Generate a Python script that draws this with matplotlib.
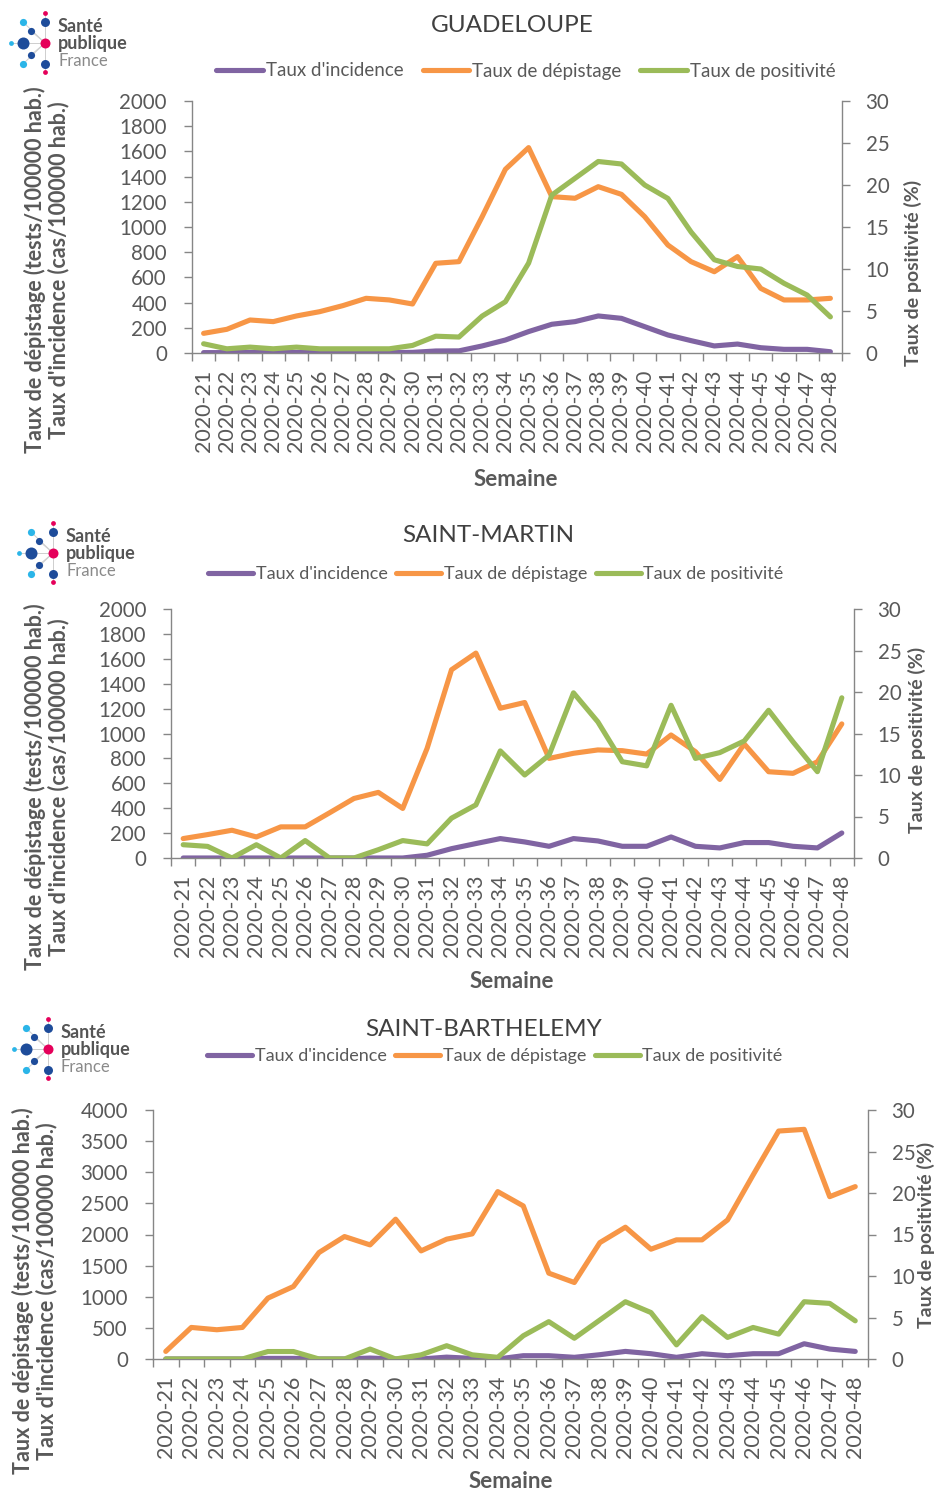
import numpy as np
import matplotlib
matplotlib.use("Agg")
import matplotlib.pyplot as plt
from matplotlib.ticker import MultipleLocator, FixedLocator

plt.rcParams['font.family'] = ['Lato', 'DejaVu Sans']

# Data
weeks = ["2020-%d" % w for w in range(21, 49)]
regions = ["GUADELOUPE", "SAINT-MARTIN", "SAINT-BARTHELEMY"]

# Guadeloupe
gp_incidence = [3, 3, 5, 3, 5, 2, 2, 2, 3, 5, 16, 17, 56, 103, 170, 228,
                249, 294, 275, 209, 143, 98, 56, 71, 42, 29, 29, 10]
gp_depistage = [156, 188, 262, 249, 294, 328, 376, 434, 421, 389, 712, 725,
                1082, 1458, 1630, 1241, 1228, 1320, 1259, 1082, 857, 725,
                645, 765, 513, 421, 421, 434]
gp_positivite = [1.1, 0.5, 0.7, 0.5, 0.7, 0.5, 0.5, 0.5, 0.5, 0.9, 2.0, 1.9,
                 4.4, 6.1, 10.7, 18.8, 20.8, 22.8, 22.5, 20.0, 18.4, 14.4,
                 11.1, 10.3, 10.0, 8.3, 6.9, 4.3]

# Saint-Martin
sm_incidence = [0, 0, 0, 0, 0, 0, 0, 0, 0, 0, 22, 75, 116, 156, 129, 94,
                156, 137, 94, 94, 169, 94, 81, 124, 124, 94, 81, 201]
sm_depistage = [156, 188, 223, 169, 250, 250, 363, 478, 527, 398, 881, 1512,
                1646, 1203, 1249, 800, 841, 868, 862, 835, 988, 854, 631,
                916, 693, 680, 773, 1077]
sm_positivite = [1.6, 1.4, 0.0, 1.6, 0.0, 2.1, 0.0, 0.0, 1.0, 2.1, 1.7, 4.8,
                 6.4, 12.9, 10.0, 12.4, 19.9, 16.4, 11.6, 11.1, 18.4, 12.0,
                 12.7, 14.1, 17.8, 14.0, 10.4, 19.3]

# Saint-Barthelemy
sb_incidence = [0, 0, 0, 0, 10, 10, 0, 0, 15, 0, 0, 30, 10, 0, 53, 53,
                27, 69, 122, 85, 27, 85, 53, 85, 85, 245, 160, 122]
sb_depistage = [122, 507, 470, 507, 978, 1165, 1710, 1967, 1833, 2246, 1737,
                1925, 2010, 2689, 2459, 1379, 1229, 1870, 2117, 1764, 1914,
                1914, 2234, 2956, 3662, 3689, 2608, 2769]
sb_positivite = [0, 0, 0, 0, 0.9, 0.9, 0, 0, 1.2, 0, 0.5, 1.6, 0.5, 0.2,
                 2.8, 4.5, 2.5, 4.7, 6.9, 5.6, 1.7, 5.1, 2.6, 3.8, 3.0, 6.9,
                 6.7, 4.6]

series = [
    (gp_incidence, gp_depistage, gp_positivite),
    (sm_incidence, sm_depistage, sm_positivite),
    (sb_incidence, sb_depistage, sb_positivite),
]
left_max = [2000, 2000, 4000]
left_step = [200, 200, 500]

# Layout (pixels of a 935x1490 figure)
W, H = 935, 1490
axes_px = [(192, 842, 101, 353), (171, 854, 609, 858), (153, 868, 1110, 1359)]
title_pos = [(512, 25), (488, 535), (484, 1030)]
legend_pos = [(526, 71), (496, 574), (495, 1056)]
legend_font = [13.5, 13, 13]
legend_gap = [1.0, 0.45, 0.45]
ylabel_pos = [(47, 270), (47, 787), (35, 1291)]
y2label_pos = [(913, 273), (917, 740), (926, 1235)]
xlabel_pos = [(516, 480), (512, 981), (511, 1482)]
logo_pos = [(45, 43), (53, 553), (48, 1049)]

PURPLE, ORANGE, GREEN = "#8064A2", "#F79646", "#9BBB59"
GREY_AX = "#868686"
TXT = "#595959"

fig = plt.figure(figsize=(W / 100, H / 100), dpi=100)


def draw_logo(ax, cx, cy):
    dots = [  # dx, dy, radius, colour
        (0, 0, 5, "#E5005A"), (-22, 0, 6, "#1E4C9A"), (-34, 0, 2.4, "#2BB5E8"),
        (-22, -21, 3.6, "#2BB5E8"), (-14, -12, 3.6, "#1E4C9A"), (0, -21, 4.5, "#1E4C9A"),
        (0, -30, 2.4, "#E5005A"), (-14, 12, 3.6, "#1E4C9A"), (-22, 21, 3.6, "#2BB5E8"),
        (0, 21, 4.5, "#1E4C9A"), (0, 29, 2.4, "#E5005A"),
    ]
    for dx, dy, r, c in dots:
        if (dx, dy) != (0, 0):
            ax.plot([cx, cx + dx], [cy, cy + dy], color="#cfcfcf", lw=0.7, zorder=1)
    for dx, dy, r, c in dots:
        ax.scatter(cx + dx, cy + dy, s=(1.44 * r) ** 2, color=c, zorder=2, linewidths=0)
    ax.text(cx + 13, cy - 17, "Santé", fontsize=13, fontweight="bold", color="#555555", va="center")
    ax.text(cx + 13, cy + 0.5, "publique", fontsize=13, fontweight="bold", color="#555555", va="center")
    ax.text(cx + 13, cy + 18, "France", fontsize=12, color="#8a8a8a", va="center")


x = np.arange(len(weeks))
for i in range(3):
    l, r, t, b = axes_px[i]
    ax = fig.add_axes([l / W, 1 - b / H, (r - l) / W, (b - t) / H])
    ax2 = ax.twinx()
    inc, dep, pos = series[i]
    h1, = ax.plot(x, inc, color=PURPLE, lw=3.7, label="Taux d'incidence",
                  solid_joinstyle="round", solid_capstyle="round")
    h2, = ax.plot(x, dep, color=ORANGE, lw=3.7, label="Taux de dépistage",
                  solid_joinstyle="round", solid_capstyle="round")
    h3, = ax2.plot(x, pos, color=GREEN, lw=3.7, label="Taux de positivité",
                   solid_joinstyle="round", solid_capstyle="round")

    ax.set_xlim(-0.5, len(weeks) - 0.5)
    ax.set_ylim(0, left_max[i])
    ax2.set_ylim(0, 30)
    ax.yaxis.set_major_locator(MultipleLocator(left_step[i]))
    ax2.yaxis.set_major_locator(MultipleLocator(5))
    ax.set_xticks(x)
    ax.set_xticklabels(weeks, rotation=90)
    ax.xaxis.set_minor_locator(FixedLocator(np.arange(-0.5, len(weeks), 1)))

    for a in (ax, ax2):
        a.patch.set_visible(False)
        a.spines["top"].set_visible(False)
        for s in a.spines.values():
            s.set_color(GREY_AX)
            s.set_linewidth(1.0)
    ax.spines["right"].set_visible(False)
    ax2.spines["left"].set_visible(False)
    ax2.spines["bottom"].set_visible(False)

    ax.tick_params(axis="x", which="major", length=0, pad=12, labelsize=15.5, labelcolor=TXT)
    ax.tick_params(axis="x", which="minor", length=6, width=1, color=GREY_AX, direction="out")
    ax.tick_params(axis="y", length=6, width=1, color=GREY_AX, pad=12, labelsize=14.8, labelcolor=TXT)
    ax2.tick_params(axis="y", length=6, width=1, color=GREY_AX, pad=11, labelsize=14.8, labelcolor=TXT)

    tx, ty = title_pos[i]
    fig.text(tx / W, 1 - ty / H, regions[i], fontsize=17.5, color="#404040", ha="center", va="center")

    lx, ly = legend_pos[i]
    fig.legend([h1, h2, h3], [h1.get_label(), h2.get_label(), h3.get_label()],
               loc="center", bbox_to_anchor=(lx / W, 1 - ly / H), ncol=3, frameon=False,
               fontsize=legend_font[i], handlelength=2.5, handletextpad=0.15,
               columnspacing=legend_gap[i], labelcolor=TXT)

    yx, yy = ylabel_pos[i]
    fig.text(yx / W, 1 - yy / H,
             "Taux de dépistage (tests/100000 hab.)\nTaux d'incidence (cas/100000 hab.)",
             rotation=90, ha="center", va="center", multialignment="center",
             fontsize=15.5, fontweight="bold", color=TXT, linespacing=1.1)
    rx, ry = y2label_pos[i]
    fig.text(rx / W, 1 - ry / H, "Taux de positivité (%)", rotation=90, ha="center",
             va="center", fontsize=14, fontweight="bold", color=TXT)
    sx, sy = xlabel_pos[i]
    fig.text(sx / W, 1 - sy / H, "Semaine", ha="center", va="center",
             fontsize=16, fontweight="bold", color=TXT)

# overlay for the logos, in pixel coordinates
over = fig.add_axes([0, 0, 1, 1])
over.set_xlim(0, W)
over.set_ylim(H, 0)
over.axis("off")
for cx, cy in logo_pos:
    draw_logo(over, cx, cy)

fig.savefig("out.png", dpi=100)
